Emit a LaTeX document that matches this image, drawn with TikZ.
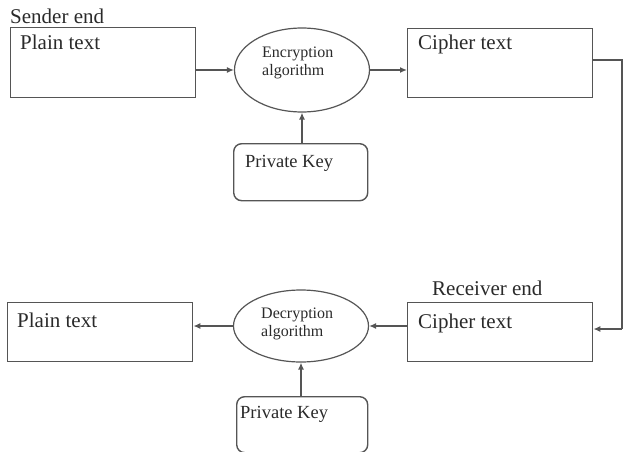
\documentclass[tikz,border=0pt]{standalone}
\usepackage{fontspec}
\setmainfont{Liberation Serif}
\usetikzlibrary{shapes.geometric,arrows.meta}
\definecolor{edge}{HTML}{555555}
\definecolor{ink}{HTML}{2A2A2A}
\tikzset{
  box/.style={draw=edge, line width=1.4pt, rectangle, anchor=north west, inner sep=0pt},
  keybox/.style={box, rounded corners=8pt},
  algo/.style={draw=edge, line width=1.2pt, ellipse, inner sep=0pt},
  lbl/.style={text=ink, anchor=base west, inner sep=0pt, font=\fontsize{21}{23}\selectfont},
  small/.style={text=ink, anchor=base west, inner sep=0pt, font=\fontsize{16}{18}\selectfont},
  mid/.style={text=ink, anchor=base west, inner sep=0pt, font=\fontsize{18.5}{20}\selectfont},
  flow/.style={draw=edge, line width=1.3pt, -{Latex[length=7pt,width=6pt]}},
  plain/.style={draw=edge, line width=1.3pt}
}
\begin{document}
\begin{tikzpicture}[x=1pt,y=-1pt]
\useasboundingbox (0,0) rectangle (624,452);

% sender side
\node[lbl] (sender) at (10,24) {Sender end};
\node[box, minimum width=185pt, minimum height=70pt] (pt1) at (10,27) {};
\node[lbl] (pt1t) at (20,50) {Plain text};
\node[algo, minimum width=135pt, minimum height=84pt] (enc) at (302,70) {};
\node[small] (enct1) at (262,58) {Encryption};
\node[small] (enct2) at (262,76) {algorithm};
\node[box, minimum width=185pt, minimum height=69pt] (ct1) at (407,28) {};
\node[lbl] (ct1t) at (418,50) {Cipher text};
\node[keybox, minimum width=134pt, minimum height=57pt] (key1) at (233,143) {};
\node[mid] (key1t) at (245,167) {Private Key};

\draw[flow] (enc.west -| pt1.east) -- (enc.west);
\draw[flow] (enc.east) -- (enc.east -| ct1.west);
\draw[flow] (key1.north -| enc.south) -- (enc.south);

% receiver side
\node[lbl] (receiver) at (432,295) {Receiver end};
\node[box, minimum width=185pt, minimum height=59pt] (ct2) at (407,302) {};
\node[lbl] (ct2t) at (418,328) {Cipher text};
\node[algo, minimum width=135pt, minimum height=72pt] (dec) at (301,326) {};
\node[small] (dect1) at (261,318) {Decryption};
\node[small] (dect2) at (261,336) {algorithm};
\node[box, minimum width=185pt, minimum height=59pt] (pt2) at (7,302) {};
\node[lbl] (pt2t) at (17,327) {Plain text};
\node[keybox, minimum width=131pt, minimum height=56pt] (key2) at (236,396) {};
\node[mid] (key2t) at (240,418) {Private Key};

\draw[flow] (ct2.west |- dec.east) -- (dec.east);
\draw[flow] (dec.west) -- (dec.west -| pt2.east);
\draw[flow] (key2.north -| dec.south) -- (dec.south);

% channel from sender to receiver along the right edge
\coordinate (edgeTop) at (622,60);
\coordinate (edgeBot) at (622,329);
\draw[plain] (ct1.east |- edgeTop) -- (edgeTop) -- (edgeBot);
\draw[flow] (edgeBot) -- (edgeBot -| ct2.east);
\end{tikzpicture}
\end{document}
